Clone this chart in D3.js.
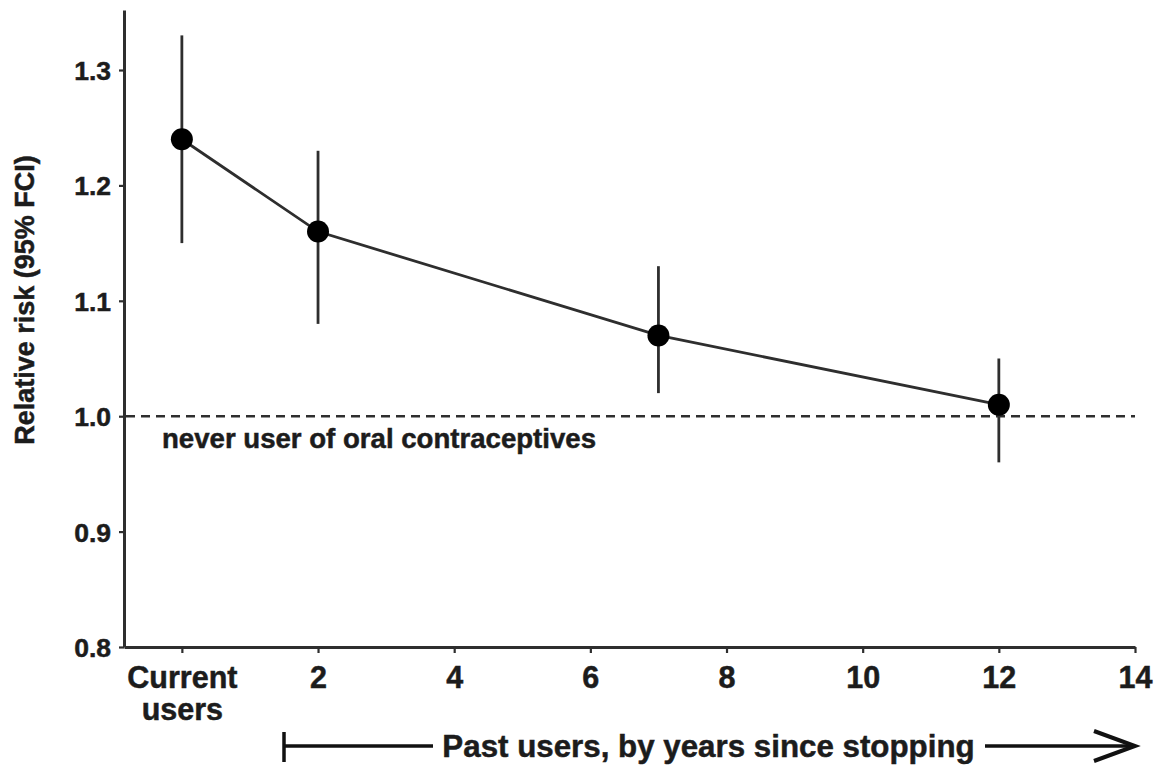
<!DOCTYPE html>
<html>
<head>
<meta charset="utf-8">
<script src="https://cdn.jsdelivr.net/npm/d3@7"></script>
<style>
  html, body { margin: 0; padding: 0; background: #fff; }
  svg { display: block; font-family: "Liberation Sans", Arial, Helvetica, sans-serif; font-weight: bold; }
  text { stroke: #1c1c1c; stroke-width: 0.5px; }
</style>
</head>
<body>
<svg id="chart" width="1154" height="767"></svg>
<script>
// ---- data ----
const xPositions = [0, 2, 7, 12];              // 0 = current users, others = years since stopping
const relativeRisk = [1.24, 1.16, 1.07, 1.01];
const ciLower = [1.15, 1.08, 1.02, 0.96];
const ciUpper = [1.33, 1.23, 1.13, 1.05];
const yTicks = [0.8, 0.9, 1.0, 1.1, 1.2, 1.3];
const xTicks = [0, 2, 4, 6, 8, 10, 12, 14];
const xTickLabels = ["Current|users", "2", "4", "6", "8", "10", "12", "14"];
const referenceValue = 1.0;
const referenceLabel = "never user of oral contraceptives";
const yAxisTitle = "Relative risk (95% FCI)";
const xAxisNote = "Past users, by years since stopping";

// ---- layout ----
const svg = d3.select("#chart");
const x = d3.scaleLinear().domain([-0.85, 14]).range([124, 1135]);
const y = d3.scaleLinear().domain([0.8, 1.352]).range([647, 10]);
const ink = "#1c1c1c";
const lineInk = "#2e2e2e";

// Y axis
const yAxis = svg.append("g").attr("transform", `translate(${x(-0.85)},0)`)
  .call(d3.axisLeft(y).tickValues(yTicks).tickFormat(d3.format(".1f")).tickSize(5).tickPadding(8).tickSizeOuter(0));
yAxis.select(".domain").attr("stroke", lineInk).attr("stroke-width", 3);
yAxis.selectAll(".tick line").attr("stroke", lineInk).attr("stroke-width", 2.2);
yAxis.selectAll(".tick text").attr("fill", ink).style("font-size", "26.5px").attr("dy", "0.36em");

// X axis
const xAxis = svg.append("g").attr("transform", `translate(0,${y(0.8)})`)
  .call(d3.axisBottom(x).tickValues(xTicks).tickFormat("").tickSize(6).tickSizeOuter(0));
xAxis.select(".domain").attr("stroke", lineInk).attr("stroke-width", 3);
xAxis.selectAll(".tick line").attr("stroke", lineInk).attr("stroke-width", 2.2);
xAxis.selectAll(".tick").each(function(d, i) {
  const lines = xTickLabels[i].split("|");
  const t = d3.select(this).append("text")
    .attr("fill", ink).attr("text-anchor", "middle")
    .style("font-size", "30.5px");
  lines.forEach((s, j) => {
    t.append("tspan").attr("x", 0).attr("y", 41 + j * 32).text(s);
  });
});

// Y axis title
svg.append("text")
  .attr("transform", `translate(34,${(150 + 450) / 2}) rotate(-90)`)
  .attr("text-anchor", "middle")
  .attr("fill", ink)
  .style("font-size", "27px")
  .text(yAxisTitle);

// reference dashed line
svg.append("line")
  .attr("x1", x(-0.85) + 2).attr("x2", x(14))
  .attr("y1", y(referenceValue)).attr("y2", y(referenceValue))
  .attr("stroke", lineInk).attr("stroke-width", 2.4)
  .attr("stroke-dasharray", "9,6");

svg.append("text")
  .attr("x", 162).attr("y", 448)
  .attr("fill", ink)
  .style("font-size", "27.6px")
  .text(referenceLabel);

// error bars
const pts = xPositions.map((v, i) => ({ x: v, rr: relativeRisk[i], lo: ciLower[i], hi: ciUpper[i] }));
svg.append("g").selectAll("line").data(pts).join("line")
  .attr("x1", d => x(d.x)).attr("x2", d => x(d.x))
  .attr("y1", d => y(d.lo)).attr("y2", d => y(d.hi))
  .attr("stroke", lineInk).attr("stroke-width", 2.8);

// connecting line
svg.append("path").datum(pts)
  .attr("fill", "none").attr("stroke", lineInk).attr("stroke-width", 2.8)
  .attr("d", d3.line().x(d => x(d.x)).y(d => y(d.rr)));

// points
svg.append("g").selectAll("circle").data(pts).join("circle")
  .attr("cx", d => x(d.x)).attr("cy", d => y(d.rr)).attr("r", 11)
  .attr("fill", "#000");

// bottom annotation: bracket, text, arrow
const noteY = 746;
const ann = svg.append("g").attr("stroke", "#111").attr("fill", "none");
ann.append("line").attr("x1", 284).attr("x2", 284).attr("y1", 732).attr("y2", 762).attr("stroke-width", 3.5);
ann.append("line").attr("x1", 284).attr("x2", 433).attr("y1", noteY).attr("y2", noteY).attr("stroke-width", 3.5);
ann.append("line").attr("x1", 985).attr("x2", 1133).attr("y1", noteY).attr("y2", noteY).attr("stroke-width", 3.5);
ann.append("polyline").attr("points", `1094,731 1135,${noteY} 1094,761`).attr("stroke-width", 4).attr("stroke-linejoin", "miter");

svg.append("text")
  .attr("x", (442 + 975) / 2).attr("y", 757)
  .attr("text-anchor", "middle")
  .attr("fill", ink)
  .style("font-size", "31.3px")
  .text(xAxisNote);
</script>
</body>
</html>
